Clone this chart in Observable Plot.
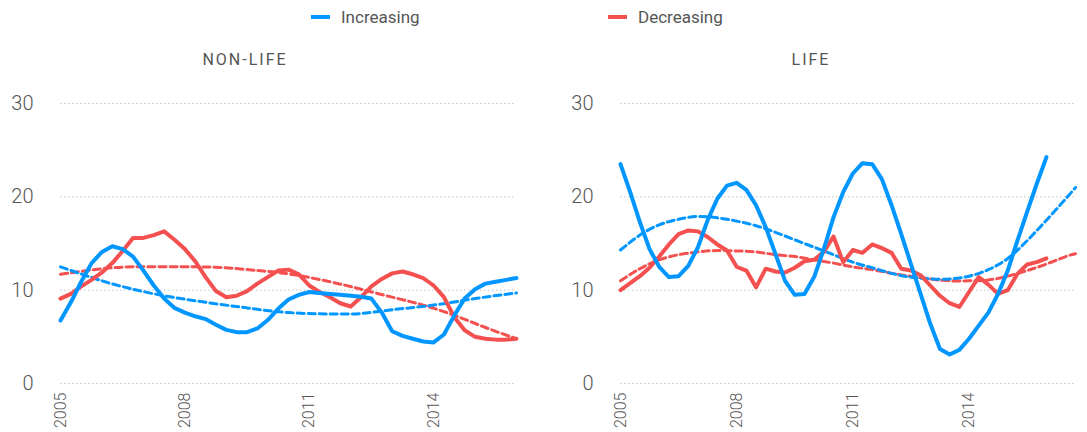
<!DOCTYPE html>
<html>
<head>
<meta charset="utf-8">
<script src="https://cdn.jsdelivr.net/npm/d3@7"></script>
<script src="https://cdn.jsdelivr.net/npm/@observablehq/plot@0.6"></script>
<style>
  body { margin: 0; background: #fff; font-family: Roboto, "Noto Sans", sans-serif; }
  #wrap { position: relative; width: 1087px; height: 432px; overflow: hidden; }
  .leg { position: absolute; top: 7px; font-size: 17px; color: #555; display: flex; align-items: center; }
  .sw { display: inline-block; width: 19px; height: 4px; margin-right: 11px; }
  .ttl { position: absolute; top: 50px; font-size: 16px; letter-spacing: 2px; color: #555; transform: translateX(-50%); white-space: nowrap; }
  .panel { position: absolute; top: 80px; }
</style>
</head>
<body>
<div id="wrap">
  <div class="leg" style="left:311px"><span class="sw" style="background:#0096ff"></span>Increasing</div>
  <div class="leg" style="left:608px"><span class="sw" style="background:#f45050"></span>Decreasing</div>
  <div class="ttl" style="left:245px">NON-LIFE</div>
  <div class="ttl" style="left:811px">LIFE</div>
  <div class="panel" id="left" style="left:0px"></div>
  <div class="panel" id="right" style="left:545px"></div>
</div>
<script>
const seriesNames = ["Increasing", "Decreasing"];
const colors = ["#0096ff", "#f45050"];
const panelTitles = ["NON-LIFE", "LIFE"];
const yTicks = [0, 10, 20, 30];
const xTicks = [2005, 2008, 2011, 2014];

// quarterly observations 2005Q1 .. 2016Q1
const quarters = d3.range(45).map(i => 2005 + i / 4);

const nonLifeIncreasing = [6.75,8.7,10.9,12.9,14.1,14.7,14.4,13.6,12.1,10.5,
  9.1,8.1,7.6,7.2,6.9,6.3,5.75,5.5,5.5,5.9,
  6.8,8.0,9.0,9.5,9.8,9.7,9.6,9.5,9.4,9.3,
  9.1,7.6,5.6,5.1,4.8,4.5,4.4,5.25,7.3,9.1,
  10.1,10.7,10.9,11.1,11.3];
const nonLifeDecreasing = [9.1,9.6,10.4,11.1,11.9,12.9,14.2,15.6,15.6,15.9,
  16.3,15.4,14.4,13.1,11.4,9.9,9.25,9.4,9.9,10.7,
  11.4,12.1,12.2,11.7,10.5,9.8,9.25,8.6,8.25,9.25,
  10.4,11.2,11.8,12.0,11.7,11.3,10.5,9.25,7.1,5.7,
  5.0,4.8,4.7,4.7,4.8];
const lifeIncreasing = [23.5,20.5,17.3,14.4,12.5,11.4,11.5,12.6,14.6,17.5,
  19.8,21.2,21.5,20.75,19.1,16.75,13.9,11.0,9.5,9.6,
  11.4,14.4,17.8,20.5,22.5,23.6,23.5,21.9,19.1,16.0,
  12.8,9.6,6.4,3.7,3.1,3.6,4.8,6.2,7.6,9.6,
  12.1,15.3,18.4,21.4,24.25];
const lifeDecreasing = [10.0,10.75,11.5,12.4,13.6,14.9,16.0,16.4,16.3,15.7,
  14.9,14.25,12.5,12.1,10.3,12.3,12.0,11.9,12.4,13.1,
  13.25,14.1,15.75,13.0,14.3,14.0,14.9,14.5,14.0,12.3,
  12.1,11.6,10.5,9.4,8.6,8.2,9.8,11.4,10.6,9.6,
  10.0,11.75,12.75,13.0,13.4];

// trend lines (dashed), read at selected dates
const nonLifeIncTrendX = [2005,2006,2006.75,2007.5,2008.5,2009.5,2010.5,2011.5,2012.25,2013,2014,2015,2016];
const nonLifeIncTrend  = [12.5,11.0,10.1,9.4,8.7,8.1,7.6,7.45,7.5,7.9,8.4,9.1,9.7];
const nonLifeDecTrendX = [2005,2006,2006.75,2007.5,2008.25,2009,2009.75,2010.5,2011.5,2012.25,2013,2013.75,2014.5,2015.25,2016];
const nonLifeDecTrend  = [11.7,12.3,12.5,12.5,12.5,12.4,12.1,11.75,10.9,10.1,9.25,8.4,7.3,6.0,4.8];
const lifeTrendX = [2005,2005.5,2006,2006.5,2007,2007.5,2008,2008.5,2009,2009.5,2010,2010.5,
  2011,2011.5,2012,2012.5,2013,2013.5,2014,2014.5,2015,2015.5,2016,2016.5,2016.75];
const lifeIncTrend = [14.3,15.9,17.0,17.6,17.9,17.75,17.4,16.9,16.2,15.4,14.6,13.8,
  13.0,12.4,11.8,11.4,11.2,11.2,11.5,12.2,13.4,15.3,17.5,19.8,21.0];
const lifeDecTrend = [11.0,12.3,13.25,13.8,14.1,14.25,14.2,14.1,13.8,13.6,13.25,12.9,
  12.5,12.2,11.8,11.5,11.2,11.0,11.0,11.1,11.5,12.1,12.8,13.6,13.9];

function rows(xs, ys) { return xs.map((x, i) => ({x, y: ys[i]})); }

function panel({width, marginLeft, marginRight, xMax, inc, dec, incT, decT}) {
  return Plot.plot({
    width, height: 352,
    marginLeft, marginRight, marginTop: 23, marginBottom: 49,
    x: {domain: [2005, xMax]},
    y: {domain: [0, 30]},
    style: {fontFamily: "Roboto, 'Noto Sans', sans-serif", color: "#666", background: "transparent", overflow: "visible"},
    marks: [
      Plot.ruleY(yTicks, {stroke: "#c4c4c4", strokeWidth: 1, strokeDasharray: "1.5,2.5"}),
      Plot.axisY({ticks: yTicks, tickSize: 0, tickPadding: 27, fontSize: 20, fontWeight: 300, label: null, fill: "#555"}),
      Plot.axisX({ticks: xTicks, tickFormat: d => String(d), tickRotate: -90, tickSize: 0, tickPadding: 9, fontSize: 16, fontWeight: 300, label: null, fill: "#555"}),
      Plot.line(decT, {x: "x", y: "y", stroke: colors[1], strokeWidth: 3, strokeDasharray: "7,4", curve: "natural"}),
      Plot.line(incT, {x: "x", y: "y", stroke: colors[0], strokeWidth: 3, strokeDasharray: "7,4", curve: "natural"}),
      Plot.line(dec, {x: "x", y: "y", stroke: colors[1], strokeWidth: 4, strokeLinejoin: "round", curve: "linear"}),
      Plot.line(inc, {x: "x", y: "y", stroke: colors[0], strokeWidth: 4, strokeLinejoin: "round", curve: "linear"})
    ]
  });
}

document.getElementById("left").append(panel({
  width: 545, marginLeft: 60, marginRight: 29, xMax: 2016,
  inc: rows(quarters, nonLifeIncreasing), dec: rows(quarters, nonLifeDecreasing),
  incT: rows(nonLifeIncTrendX, nonLifeIncTrend), decT: rows(nonLifeDecTrendX, nonLifeDecTrend)
}));
document.getElementById("right").append(panel({
  width: 542, marginLeft: 75, marginRight: 12, xMax: 2016.75,
  inc: rows(quarters, lifeIncreasing), dec: rows(quarters, lifeDecreasing),
  incT: rows(lifeTrendX, lifeIncTrend), decT: rows(lifeTrendX, lifeDecTrend)
}));
</script>
</body>
</html>
